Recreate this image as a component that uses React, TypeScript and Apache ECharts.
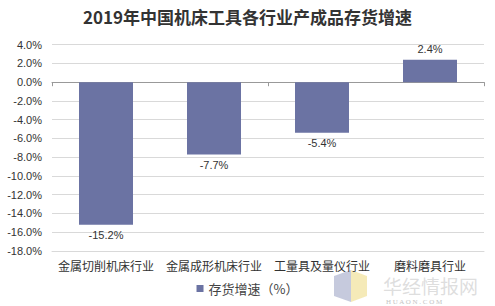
import React, { useEffect, useRef } from "react";
import * as echarts from "echarts";

const categories = ["金属切削机床行业", "金属成形机床行业", "工量具及量仪行业", "磨料磨具行业"];
const values = [-15.2, -7.7, -5.4, 2.4];
const seriesName = "存货增速（%）";
const title = "2019年中国机床工具各行业产成品存货增速";

export default function App() {
  const ref = useRef<HTMLDivElement>(null);
  useEffect(() => {
    if (!ref.current) return;
    const chart = echarts.init(ref.current, undefined, { renderer: "svg" });
    chart.setOption({
      animation: false,
      backgroundColor: "#ffffff",
      title: {
        text: title,
        left: "center",
        top: 3,
        textStyle: { fontFamily: "Noto Sans CJK SC", fontWeight: "bold", fontSize: 17, color: "#333" },
      },
      grid: { left: 52, right: 11, top: 44.7, bottom: 55 },
      legend: {
        bottom: 6,
        left: "center",
        icon: "rect",
        itemWidth: 7,
        itemHeight: 7,
        itemGap: 4,
        textStyle: { fontSize: 13, color: "#444", fontFamily: "Noto Sans CJK SC" },
        data: [seriesName],
      },
      xAxis: [
        {
          type: "category",
          data: categories,
          position: "bottom",
          axisLine: { onZero: false, show: true, lineStyle: { color: "#d9d9d9" } },
          axisTick: { show: false },
          axisLabel: { fontSize: 12, lineHeight: 12, color: "#333", margin: 8, fontFamily: "Noto Sans CJK SC", interval: 0 },
        },
        {
          type: "category",
          data: categories,
          position: "top",
          axisLine: { onZero: true, show: true, lineStyle: { color: "#999" } },
          axisTick: { show: true, inside: true, length: 4, lineStyle: { color: "#999" } },
          axisLabel: { show: false },
        },
      ],
      yAxis: {
        type: "value",
        min: -18,
        max: 4,
        interval: 2,
        axisLine: { show: false },
        axisTick: { show: false },
        splitLine: { lineStyle: { color: "#d9d9d9" } },
        axisLabel: {
          formatter: (v: number) => v.toFixed(1) + "%",
          fontSize: 11,
          color: "#333",
          margin: 10,
          fontFamily: "Liberation Sans",
        },
      },
      series: [
        {
          name: seriesName,
          type: "bar",
          data: values,
          barWidth: "50%",
          itemStyle: { color: "#6b73a3" },
          label: {
            show: true,
            formatter: (p: any) => p.value.toFixed(1) + "%",
            position: "outside",
            fontSize: 11,
            color: "#333",
            fontFamily: "Liberation Sans",
          },
        },
      ],
      graphic: [
        { type: "polygon", z: -1, shape: { points: [[334, 276], [351, 270], [351, 302], [334, 296]] }, style: { fill: "#b3b8d2", opacity: 0.75 }, silent: true },
        { type: "polygon", z: -1, shape: { points: [[351, 270], [367, 276], [367, 296], [351, 302]] }, style: { fill: "#f2e3a0", opacity: 0.75 }, silent: true },
        { type: "text", z: -1, x: 383, y: 276, style: { text: "华经情报网", fontSize: 19, lineHeight: 19, fill: "#cfcfcf", opacity: 0.7, fontFamily: "Noto Sans CJK SC" }, silent: true },
        { type: "text", z: -1, x: 386, y: 298.5, style: { text: "H U A O N . C O M", fontSize: 7, lineHeight: 7, fill: "#c4c4c4", fontFamily: "Liberation Serif" }, silent: true },
      ],
    });
    return () => chart.dispose();
  }, []);
  return <div ref={ref} style={{ width: 495, height: 306, position: "absolute", left: 0, top: 0 }} />;
}
